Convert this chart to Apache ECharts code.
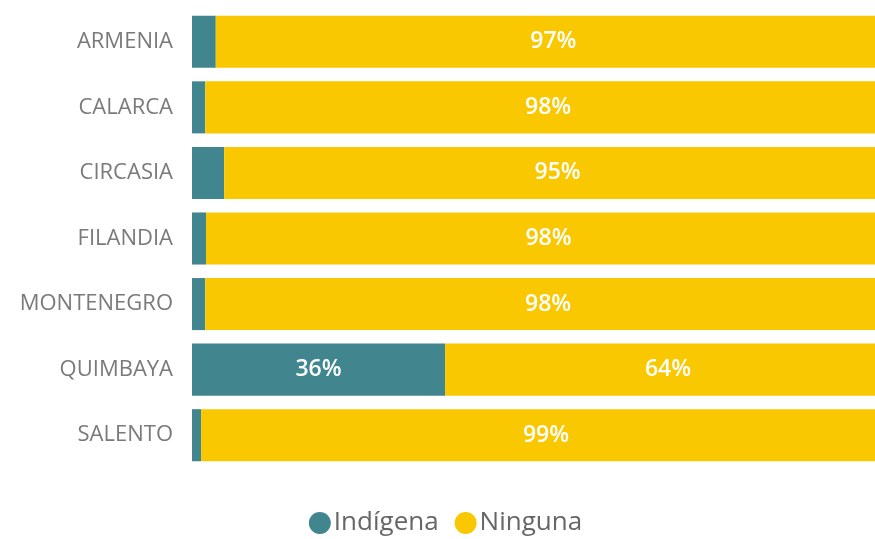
<!DOCTYPE html>
<html>
<head>
    <meta charset="UTF-8">
    <title>Indígena / Ninguna</title>
    <script src="https://cdn.jsdelivr.net/npm/echarts@6/dist/echarts.min.js"></script>
    <style>
        html, body { margin: 0; padding: 0; background: #fff; overflow: hidden; }
        /* el área de trazado sigue un poco más allá del borde derecho, como en el original */
        #chart { width: 891px; height: 539px; }
    </style>
</head>
<body>
    <div id="chart"></div>
    <script type="text/javascript">
        // datos
        var municipios = ['ARMENIA', 'CALARCA', 'CIRCASIA', 'FILANDIA', 'MONTENEGRO', 'QUIMBAYA', 'SALENTO'];
        var indigena = [3.4, 1.9, 4.6, 2.0, 1.9, 36.2, 1.3];
        var ninguna = [96.6, 98.1, 95.4, 98.0, 98.1, 63.8, 98.7];

        var myChart = echarts.init(document.getElementById('chart'));

        function etiqueta(p) {
            if (p.value < 10) return '';
            return Math.round(p.value) + '%';
        }

        var labelStyle = {
            show: true,
            position: 'inside',
            color: '#fff',
            fontFamily: 'Open Sans',
            fontSize: 23,
            fontWeight: 600,
            formatter: etiqueta
        };

        var option = {
            animation: false,
            grid: { left: 192, right: 0, top: 9, bottom: 71, containLabel: false },
            legend: {
                top: 505,
                left: 'center',
                icon: 'circle',
                itemWidth: 22,
                itemHeight: 22,
                itemGap: 16,
                textStyle: { color: '#666', fontSize: 26, fontFamily: 'Open Sans', padding: [0, 0, 0, -2] },
                data: ['Indígena', 'Ninguna']
            },
            xAxis: {
                type: 'value',
                min: 0,
                max: 100,
                show: false
            },
            yAxis: {
                type: 'category',
                inverse: true,
                data: municipios,
                axisLine: { show: false },
                axisTick: { show: false },
                axisLabel: { color: '#7a7a7a', fontSize: 22, fontFamily: 'Open Sans', margin: 19 }
            },
            series: [
                {
                    name: 'Indígena', type: 'bar', stack: 'total',
                    barCategoryGap: '20.6%',
                    itemStyle: { color: '#41858F' },
                    label: labelStyle,
                    data: indigena
                },
                {
                    name: 'Ninguna', type: 'bar', stack: 'total',
                    itemStyle: { color: '#F9C800' },
                    label: labelStyle,
                    data: ninguna
                }
            ]
        };

        myChart.setOption(option);
    </script>
</body>
</html>
